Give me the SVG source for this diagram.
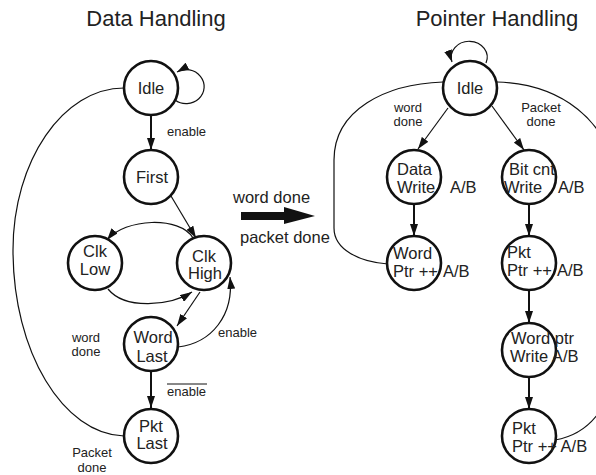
<svg xmlns="http://www.w3.org/2000/svg" width="596" height="475" viewBox="0 0 596 475">
<defs>
<style>
.n circle{fill:#fff;stroke:#111;stroke-width:2.6}
.nt{font-family:"Liberation Sans",Arial,sans-serif;font-size:16.5px;fill:#222}
.t{font-family:"Liberation Sans",Arial,sans-serif;font-size:22px;fill:#222}
.s{font-family:"Liberation Sans",Arial,sans-serif;font-size:13px;fill:#222}
.m{font-family:"Liberation Sans",Arial,sans-serif;font-size:16.5px;fill:#222}
.c{fill:none;stroke:#111;stroke-width:1.2}
.k{fill:none;stroke:#111;stroke-width:2}
</style>
<marker id="ah" viewBox="0 0 12 8" refX="12" refY="4" markerWidth="12" markerHeight="8" markerUnits="userSpaceOnUse" orient="auto"><path d="M0,0 L12,4 L0,8 z" fill="#111"/></marker>
</defs>
<rect width="596" height="475" fill="#fff"/>
<text class="t" x="156" y="26" text-anchor="middle">Data Handling</text>
<text class="t" x="497" y="26" text-anchor="middle">Pointer Handling</text>
<g id="connectors">
<path class="c" d="M175,100 A18,17 0 1 0 177,72" marker-end="url(#ah)"/>
<path class="k" d="M151,115 L151,150" marker-end="url(#ah)"/>
<path class="c" d="M171,196 L196,238" marker-end="url(#ah)"/>
<path class="c" d="M193,238 C180,216 125,218 107,240" marker-end="url(#ah)"/>
<path class="c" d="M108,289 C125,310 170,306 192,292" marker-end="url(#ah)"/>
<path class="c" d="M200,292 L177,326" marker-end="url(#ah)"/>
<path class="c" d="M178,347 C212,343 234,315 230,277" marker-end="url(#ah)"/>
<path class="k" d="M151,372 L151,408" marker-end="url(#ah)"/>
<path class="c" d="M124,88 C63,88 13,161 13,250 C13,352 63,434 124,436"/>
<polygon points="241,212 284,212 284,207 315,216 284,224 284,220 241,220" fill="#111"/>
<path class="c" d="M486,63 A18,16 0 1 0 452,62" marker-end="url(#ah)"/>
<path class="c" d="M448,108 L418,149" marker-end="url(#ah)"/>
<path class="c" d="M492,106 L524,150" marker-end="url(#ah)"/>
<path class="k" d="M414,204 L414,236" marker-end="url(#ah)"/>
<path class="k" d="M529,204 L529,236" marker-end="url(#ah)"/>
<path class="k" d="M529,290 L529,323" marker-end="url(#ah)"/>
<path class="k" d="M529,377 L529,409" marker-end="url(#ah)"/>
<path class="c" d="M443,82 C385,84 334,110 334,160 L334,228 C334,250 360,262 388,264"/>
<path class="c" d="M497,82 C560,84 610,120 615,180 L615,360 C613,405 590,434 555,440"/>
</g>
<g id="idle-d" class="n"><circle cx="151" cy="88" r="27"/><text class="nt" x="151" y="94" text-anchor="middle">Idle</text></g>
<g id="first" class="n"><circle cx="151" cy="177" r="27"/><text class="nt" x="152" y="183" text-anchor="middle">First</text></g>
<g id="clk-low" class="n"><circle cx="95" cy="263" r="27"/><text class="nt" x="95" y="257" text-anchor="middle">Clk</text><text class="nt" x="95" y="275" text-anchor="middle">Low</text></g>
<g id="clk-high" class="n"><circle cx="204" cy="263" r="27"/><text class="nt" x="204" y="262" text-anchor="middle">Clk</text><text class="nt" x="205" y="279" text-anchor="middle">High</text></g>
<g id="word-last" class="n"><circle cx="151" cy="344" r="27"/><text class="nt" x="153" y="343" text-anchor="middle">Word</text><text class="nt" x="152" y="362" text-anchor="middle">Last</text></g>
<g id="pkt-last" class="n"><circle cx="151" cy="436" r="27"/><text class="nt" x="151" y="432" text-anchor="middle">Pkt</text><text class="nt" x="152" y="449" text-anchor="middle">Last</text></g>
<g id="idle-p" class="n"><circle cx="470" cy="88" r="27"/><text class="nt" x="470" y="94" text-anchor="middle">Idle</text></g>
<g id="data-write" class="n"><circle cx="414" cy="177" r="27"/><text class="nt" x="397" y="175">Data</text><text class="nt" x="397" y="193">Write</text><text class="nt" x="450" y="193">A/B</text></g>
<g id="bitcnt-write" class="n"><circle cx="529" cy="177" r="27"/><text class="nt" x="509" y="175">Bit cnt</text><text class="nt" x="504" y="193">Write</text><text class="nt" x="558" y="193">A/B</text></g>
<g id="word-ptr" class="n"><circle cx="414" cy="263" r="27"/><text class="nt" x="393" y="259">Word</text><text class="nt" x="393" y="277">Ptr ++</text><text class="nt" x="443" y="277">A/B</text></g>
<g id="pkt-ptr1" class="n"><circle cx="529" cy="263" r="27"/><text class="nt" x="507" y="258">Pkt</text><text class="nt" x="507" y="276">Ptr ++</text><text class="nt" x="557" y="276">A/B</text></g>
<g id="wordptr-write" class="n"><circle cx="529" cy="350" r="27"/><text class="nt" x="511" y="344">Word ptr</text><text class="nt" x="510" y="362">Write A/B</text></g>
<g id="pkt-ptr2" class="n"><circle cx="529" cy="436" r="27"/><text class="nt" x="512" y="434">Pkt</text><text class="nt" x="512" y="452">Ptr ++ A/B</text></g>
<g id="labels">
<text class="s" x="167" y="136">enable</text>
<text class="s" x="218" y="337">enable</text>
<text class="s" x="86" y="342" text-anchor="middle">word</text>
<text class="s" x="86" y="356" text-anchor="middle">done</text>
<text class="s" x="167" y="396">enable</text>
<line x1="167" y1="384" x2="207" y2="384" stroke="#111" stroke-width="1"/>
<text class="s" x="92" y="457" text-anchor="middle">Packet</text>
<text class="s" x="92" y="472" text-anchor="middle">done</text>
<text class="s" x="408" y="112" text-anchor="middle">word</text>
<text class="s" x="408" y="126" text-anchor="middle">done</text>
<text class="s" x="541" y="112" text-anchor="middle">Packet</text>
<text class="s" x="541" y="126" text-anchor="middle">done</text>
<text class="m" x="233" y="203">word done</text>
<text class="m" x="240" y="243">packet done</text>
</g>
</svg>
